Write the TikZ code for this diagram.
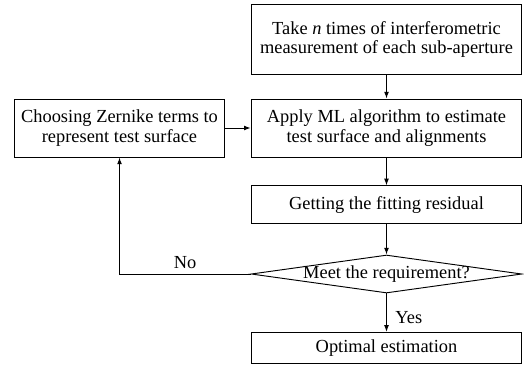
\documentclass[tikz,border=0pt]{standalone}
\usepackage{fontspec}
\setmainfont{Liberation Serif}
\usetikzlibrary{shapes.geometric,arrows.meta}

\tikzset{
	stepbox/.style={draw, line width=0.7pt, minimum width=203pt, align=center, inner sep=0pt, font=\fontsize{13.8}{14.8}\selectfont},
	decide/.style={draw, diamond, line width=0.7pt, inner sep=0pt, minimum width=203pt, minimum height=28.5pt, font=\fontsize{13.8}{14.8}\selectfont},
	flow/.style={line width=0.7pt, -{Latex[length=5pt,width=3.6pt]}}
}

\begin{document}
\begin{tikzpicture}[x=0.75pt,y=-0.75pt]
	\useasboundingbox (0,0) rectangle (524,365);
	\node[stepbox, minimum height=52pt] (take) at (386.5,39.5) {Take \textit{n} times of interferometric\\measurement of each sub-aperture};
	\node[stepbox, minimum height=43.5pt] (apply) at (386.5,128) {Apply ML algorithm to estimate\\test surface and alignments};
	\node[stepbox, minimum width=157.5pt, minimum height=43.5pt] (zernike) at (119.5,128) {Choosing Zernike terms to\\represent test surface};
	\node[stepbox, minimum height=28pt] (residual) at (386.5,204.5) {Getting the fitting residual};
	\node[decide] (meet) at (386.5,274) {\makebox[0pt]{Meet the requirement?}};
	\node[stepbox, minimum height=23.5pt] (optimal) at (386.5,348) {Optimal estimation};

	\draw[flow] (take) -- (apply);
	\draw[flow] (apply) -- (residual);
	\draw[flow] (residual) -- (meet);
	\draw[flow] (meet) -- node[right, pos=0.62, font=\fontsize{13.8}{14.8}\selectfont, xshift=3pt] {Yes} (optimal);
	\draw[flow] (meet.west) -- node[above, pos=0.5, font=\fontsize{13.8}{14.8}\selectfont] {No} (meet.west -| zernike.south) -- (zernike.south);
	\draw[flow] (zernike) -- (apply);
\end{tikzpicture}
\end{document}
